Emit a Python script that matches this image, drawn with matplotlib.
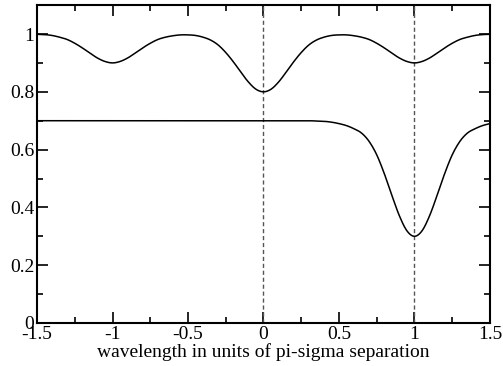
import numpy as np
import matplotlib
matplotlib.use('Agg')
import matplotlib.pyplot as plt
from matplotlib.ticker import MultipleLocator

# values, x step 0.05
x = np.round(np.arange(-1.5, 1.5001, 0.05), 2)

# upper curve, symmetric about x = 0 (this is x = 0 .. 1.5)
upper_half = [0.800, 0.809, 0.834, 0.868, 0.904, 0.936, 0.962, 0.979, 0.989, 0.995,
              0.997, 0.997, 0.994, 0.989, 0.981, 0.968, 0.952, 0.934, 0.917, 0.905,
              0.900, 0.905, 0.917, 0.934, 0.952, 0.968, 0.981, 0.989, 0.995, 0.998,
              0.999]
upper = upper_half[:0:-1] + upper_half

# lower curve: flat, then one dip at x = 1 (dip side is x = 1 .. 1.5)
lower_flat = [0.700] * 37 + [0.699, 0.698, 0.695]
lower_dip = [0.300, 0.319, 0.371, 0.442, 0.517, 0.582, 0.628, 0.657, 0.672, 0.683,
             0.690]
lower = lower_flat + lower_dip[:0:-1] + lower_dip

markers_x = [0, 1]


def smooth(xs, ys, n=12):
    # catmull-rom through the read points, only to draw them round
    xs = np.asarray(xs, float)
    ys = np.asarray(ys, float)
    p = np.concatenate([[2 * ys[0] - ys[1]], ys, [2 * ys[-1] - ys[-2]]])
    t = np.linspace(0, 1, n, endpoint=False)
    ox, oy = [], []
    for i in range(len(xs) - 1):
        p0, p1, p2, p3 = p[i], p[i + 1], p[i + 2], p[i + 3]
        yy = 0.5 * (2 * p1 + (-p0 + p2) * t + (2 * p0 - 5 * p1 + 4 * p2 - p3) * t ** 2
                    + (-p0 + 3 * p1 - 3 * p2 + p3) * t ** 3)
        ox.append(xs[i] + (xs[i + 1] - xs[i]) * t)
        oy.append(yy)
    ox.append([xs[-1]])
    oy.append([ys[-1]])
    return np.concatenate(ox), np.concatenate(oy)


plt.rcParams['font.family'] = ['Liberation Serif', 'DejaVu Serif']

fig = plt.figure(figsize=(5.03, 3.66), dpi=100)
ax = fig.add_axes([0.0736, 0.1175, 0.9005, 0.8685])

for m in markers_x:
    ax.plot([m, m], [0, 1.1], color='#555555', lw=1.0, ls=(0, (3, 2)))
ax.plot(*smooth(x, upper), color='black', lw=1.1)
ax.plot(*smooth(x, lower), color='black', lw=1.1)

ax.set_xlim(-1.5, 1.5)
ax.set_ylim(0, 1.1)
ax.xaxis.set_minor_locator(MultipleLocator(0.25))
ax.yaxis.set_minor_locator(MultipleLocator(0.1))
ax.set_xticks([-1.5, -1, -0.5, 0, 0.5, 1, 1.5])
ax.set_xticklabels(['-1.5', '-1', '-0.5', '0', '0.5', '1', '1.5'])
ax.set_yticks([0, 0.2, 0.4, 0.6, 0.8, 1])
ax.set_yticklabels(['0', '0.2', '0.4', '0.6', '0.8', '1'])
ax.tick_params(which='both', direction='in', top=True, right=True, labelsize=14, width=1.2)
ax.tick_params(which='major', length=8, pad=2)
ax.tick_params(which='minor', length=4)
for s in ax.spines.values():
    s.set_linewidth(1.5)
ax.set_xlabel('wavelength in units of pi-sigma separation', fontsize=14, labelpad=0)

fig.savefig('out.png', dpi=100)
